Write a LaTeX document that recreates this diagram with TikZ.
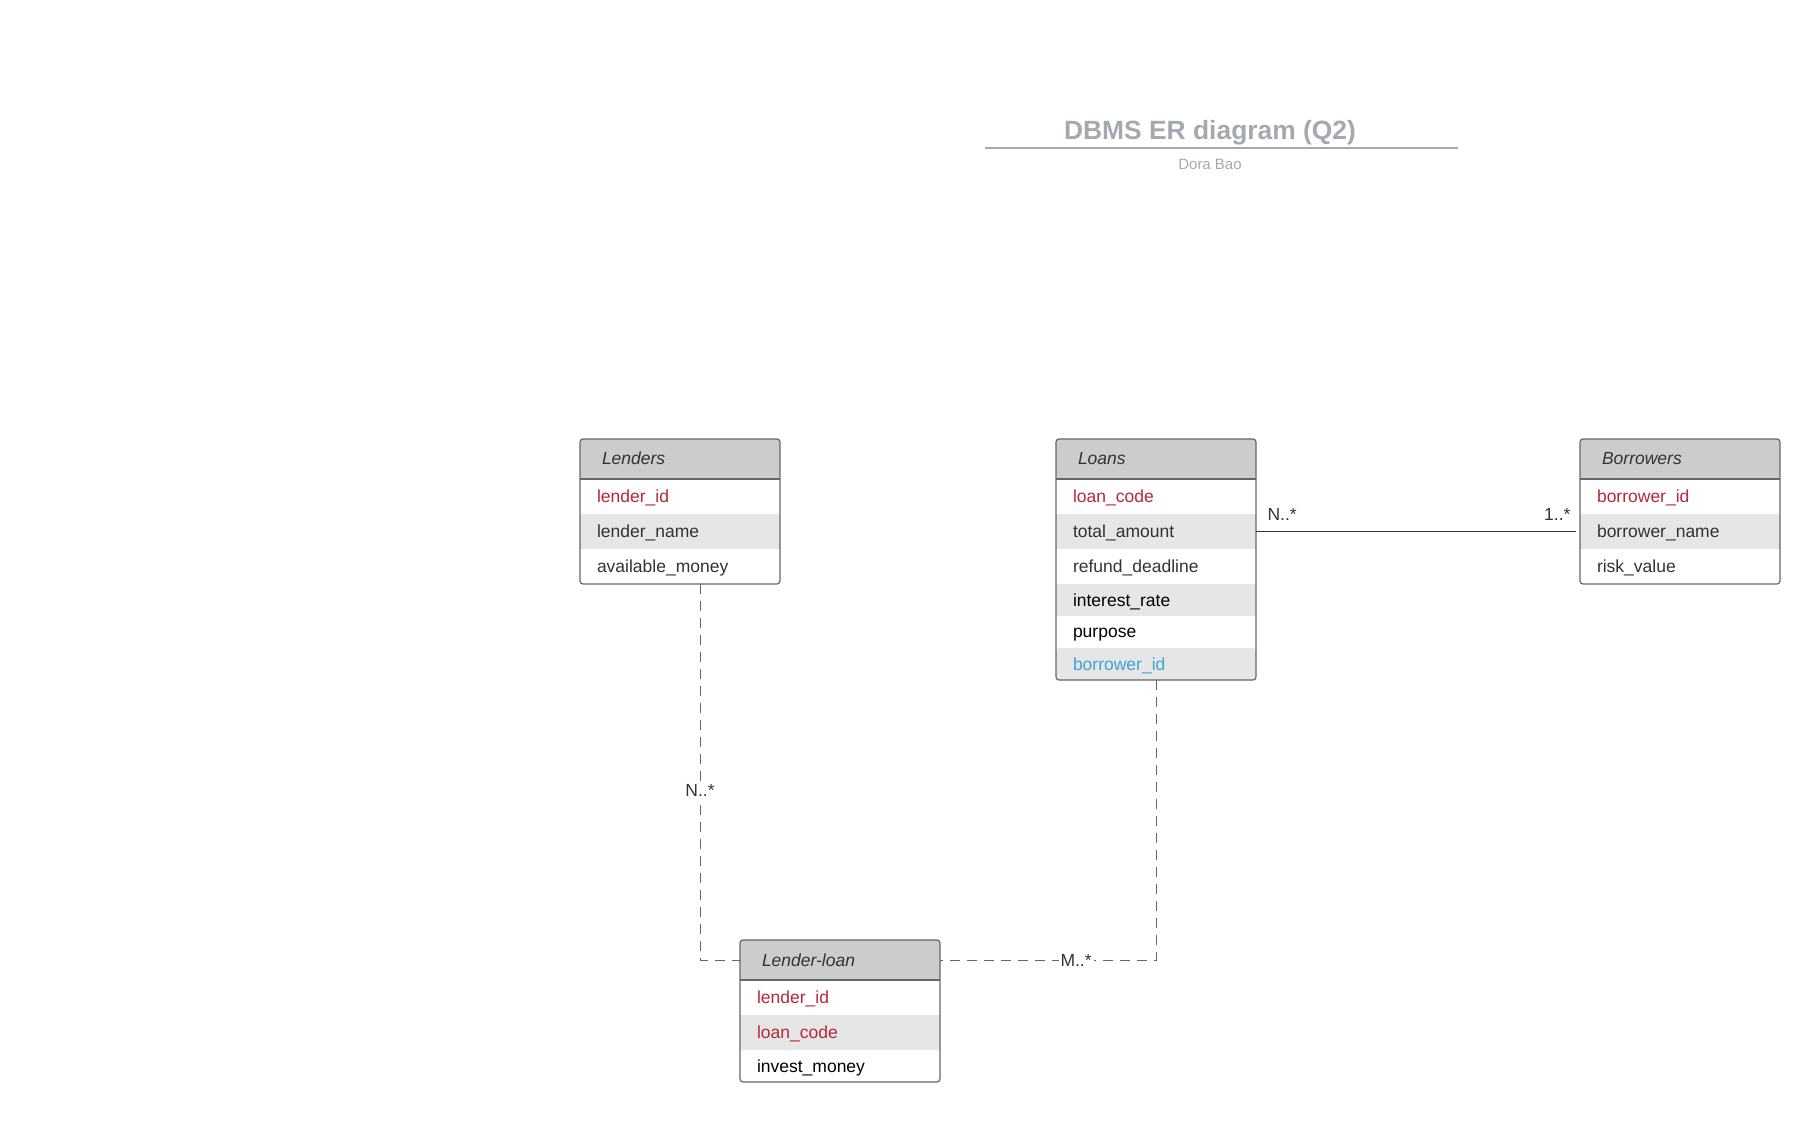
\documentclass[tikz,border=0pt]{standalone}
\usepackage{fontspec}
\setmainfont{Liberation Sans}
\usepackage{xcolor}
\usepackage{tikz}
\usetikzlibrary{positioning}

\definecolor{headgray}{HTML}{CCCCCC}
\definecolor{rowgray}{HTML}{E6E6E6}
\definecolor{framegray}{HTML}{666666}
\definecolor{keyred}{HTML}{B5293A}
\definecolor{fkblue}{HTML}{3DA3D8}
\definecolor{textdark}{HTML}{333333}
\definecolor{titlegray}{HTML}{A4A9AF}

\begin{document}
\begin{tikzpicture}[
	x=0.5pt, y=-0.5pt,
	font=\fontsize{8.75pt}{10pt}\selectfont,
	text=textdark
]
\tikzset{
    entityhead/.style = {anchor=north west, fill=headgray, rounded corners=1.5pt, minimum height=20pt, text width=78pt,
      inner xsep=11pt, inner ysep=0pt, outer sep=0pt, align=left, text height=7.5pt, text depth=1.5pt,
      font=\fontsize{8.75pt}{10pt}\selectfont\itshape},
    attrrow/.style = {fill=white, minimum height=17.5pt, text width=83pt, inner xsep=8.5pt, inner ysep=0pt,
      outer sep=0pt, align=left, text height=7.5pt, text depth=1.5pt},
    attrrowalt/.style = {attrrow, fill=rowgray},
    shortrow/.style = {minimum height=16pt},
    lastrow/.style = {rounded corners=1.5pt},
    keyattr/.style = {text=keyred},
    fkattr/.style = {text=fkblue},
    plainattr/.style = {text=black},
    entityframe/.style = {draw=framegray, line width=0.6pt, rounded corners=1.5pt},
    relline/.style = {draw=textdark, line width=0.55pt},
    reldash/.style = {draw=framegray, line width=0.5pt, dash pattern=on 5pt off 3.5pt},
    cardlabel/.style = {fill=white, inner sep=1pt, text=textdark},
    cardtext/.style = {inner sep=0pt, text=textdark}
}
\useasboundingbox (0,0) rectangle (1820,1122);

% title
\node[text=titlegray, font=\fontsize{13.2pt}{16pt}\selectfont\bfseries] (title) at (1210,133) {DBMS ER diagram (Q2)};
\draw[titlegray, line width=1.2pt] (985,148) -- (1458,148);
\node[text=titlegray, font=\fontsize{7.5pt}{9pt}\selectfont] (author) at (1210,164) {Dora Bao};

% Lenders
\node[entityhead] (lend) at (580,439) {Lenders};
\node[attrrow, keyattr, below=0pt of lend] (lend1) {lender\_id};
\node[attrrowalt, below=0pt of lend1] (lend2) {lender\_name};
\node[attrrow, lastrow, below=0pt of lend2] (lend3) {available\_money};
\draw[entityframe] (lend.north west) rectangle (lend3.south east);
\draw[entityframe] (lend.south west) -- (lend.south east);

% Loans
\node[entityhead] (loan) at (1056,439) {Loans};
\node[attrrow, keyattr, below=0pt of loan] (loan1) {loan\_code};
\node[attrrowalt, below=0pt of loan1] (loan2) {total\_amount};
\node[attrrow, below=0pt of loan2] (loan3) {refund\_deadline};
\node[attrrowalt, shortrow, plainattr, below=0pt of loan3] (loan4) {interest\_rate};
\node[attrrow, shortrow, plainattr, below=0pt of loan4] (loan5) {purpose};
\node[attrrowalt, shortrow, lastrow, fkattr, below=0pt of loan5] (loan6) {borrower\_id};
\draw[entityframe] (loan.north west) rectangle (loan6.south east);
\draw[entityframe] (loan.south west) -- (loan.south east);

% Borrowers
\node[entityhead] (borr) at (1580,439) {Borrowers};
\node[attrrow, keyattr, below=0pt of borr] (borr1) {borrower\_id};
\node[attrrowalt, below=0pt of borr1] (borr2) {borrower\_name};
\node[attrrow, lastrow, below=0pt of borr2] (borr3) {risk\_value};
\draw[entityframe] (borr.north west) rectangle (borr3.south east);
\draw[entityframe] (borr.south west) -- (borr.south east);

% Lender-loan
\node[entityhead] (link) at (740,940) {Lender-loan};
\node[attrrow, keyattr, below=0pt of link] (link1) {lender\_id};
\node[attrrowalt, keyattr, below=0pt of link1] (link2) {loan\_code};
\node[attrrow, shortrow, lastrow, plainattr, below=0pt of link2] (link3) {invest\_money};
\draw[entityframe] (link.north west) rectangle (link3.south east);
\draw[entityframe] (link.south west) -- (link.south east);

% relations
\draw[relline, shorten >=2pt] (loan2.east) -- (borr2.west)
  node[cardtext, pos=0, anchor=base west, xshift=5.5pt, yshift=5.5pt] {N..*}
  node[cardtext, pos=1, anchor=base east, xshift=-4.5pt, yshift=5.5pt] {1..*};
\draw[reldash] ([xshift=10pt]lend3.south) |- (link.west) node[cardlabel, pos=0.275] {N..*};
\draw[reldash] (loan6.south) |- (link.east) node[cardlabel, pos=0.685] {M..*};
\end{tikzpicture}
\end{document}
